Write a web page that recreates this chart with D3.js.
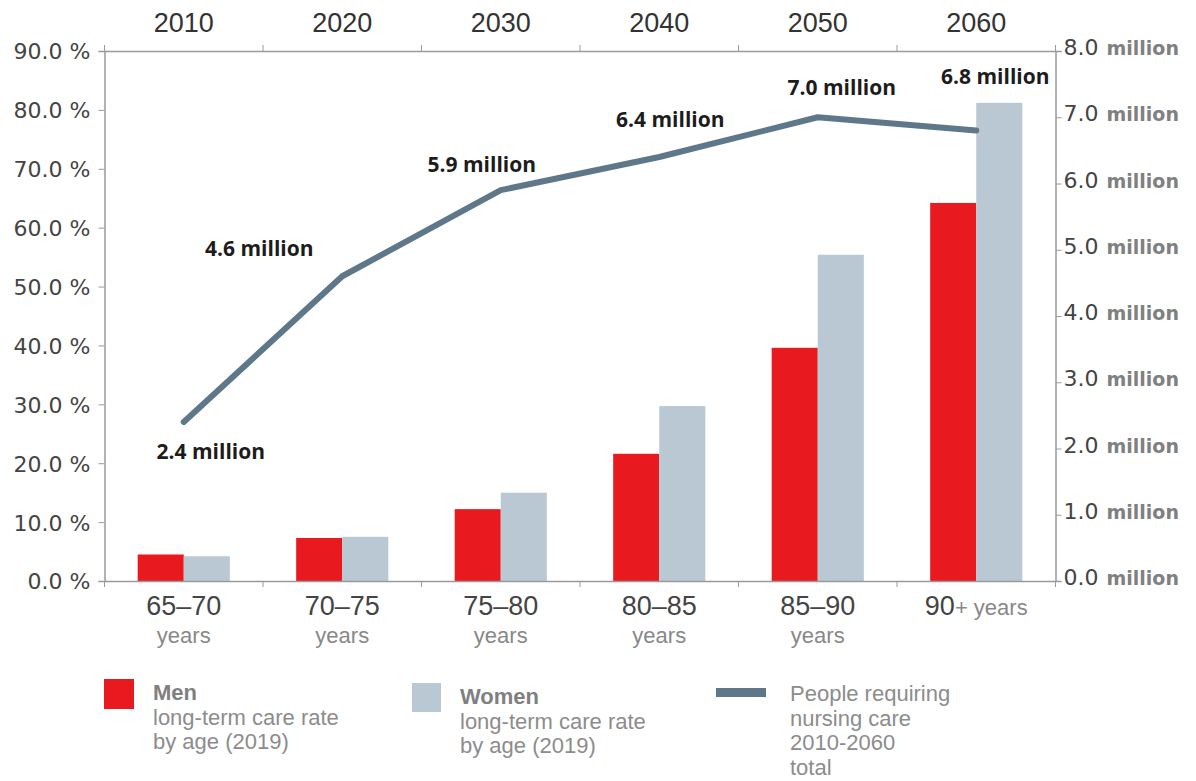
<!DOCTYPE html>
<html>
<head>
<meta charset="utf-8">
<script src="https://cdn.jsdelivr.net/npm/d3@7"></script>
<style>
  html, body { margin: 0; padding: 0; background: #fff; }
  svg { display: block; }
  .narrow { font-family: "Liberation Sans Narrow", "Liberation Sans", Arial, sans-serif; }
</style>
</head>
<body>
<svg id="chart" width="1196" height="781"></svg>
<script>
// Age groups (bottom) and projection years (top)
const ageGroups = ["65–70", "70–75", "75–80", "80–85", "85–90", "90+"];
const years = ["2010", "2020", "2030", "2040", "2050", "2060"];

// Long-term care rate by age, 2019 (%)
const menRate = [4.5, 7.3, 12.2, 21.6, 39.6, 64.2];
const womenRate = [4.2, 7.5, 15.0, 29.7, 55.4, 81.2];

// People requiring nursing care, total (million)
const careTotal = [2.4, 4.6, 5.9, 6.4, 7.0, 6.8];

// Axis ticks
const pctTicks = [0, 10, 20, 30, 40, 50, 60, 70, 80, 90];
const millionTicks = [0, 1, 2, 3, 4, 5, 6, 7, 8];

const colors = { men: "#e8191f", women: "#b9c8d3", line: "#5e7889", axis: "#9a9a9a" };

const svg = d3.select("#chart");
const plotLeft = 104.5, plotRight = 1055.5, plotTop = 51, plotBottom = 581;

const x = d3.scaleBand().domain(d3.range(ageGroups.length)).range([plotLeft, plotRight]).padding(0);
const sub = d3.scaleBand().domain(["men", "women"]).range([0, x.bandwidth()])
  .paddingInner(0).paddingOuter(0.72);
const yPct = d3.scaleLinear().domain([0, 90]).range([plotBottom, plotTop]);
const yMil = d3.scaleLinear().domain([0, 8]).range([plotBottom, plotTop]);

// Bars
const groups = svg.append("g").selectAll("g")
  .data(ageGroups.map((g, i) => ({ i, men: menRate[i], women: womenRate[i] })))
  .join("g")
  .attr("transform", d => `translate(${x(d.i)},0)`);

groups.selectAll("rect")
  .data(d => [{ k: "men", v: d.men }, { k: "women", v: d.women }])
  .join("rect")
  .attr("x", d => sub(d.k))
  .attr("width", sub.bandwidth())
  .attr("y", d => yPct(d.v))
  .attr("height", d => yPct(0) - yPct(d.v))
  .attr("fill", d => colors[d.k]);

// Left axis (%)
const axL = svg.append("g").attr("transform", `translate(${plotLeft},0)`)
  .call(d3.axisLeft(yPct).tickValues(pctTicks).tickSize(6).tickPadding(8)
    .tickFormat(d => d3.format(".1f")(d) + " %"));
axL.select(".domain").attr("stroke", colors.axis).attr("stroke-width", 1.5);
axL.selectAll(".tick line").attr("stroke", colors.axis);
axL.selectAll(".tick text").attr("font-family", "DejaVu Sans, Verdana, sans-serif")
  .attr("font-size", 22).attr("fill", "#444").attr("dy", "0.36em");

// Right axis (million)
const axR = svg.append("g").attr("transform", `translate(${plotRight},0)`)
  .call(d3.axisRight(yMil).tickValues(millionTicks).tickSize(6).tickPadding(2).tickFormat(""));
axR.select(".domain").attr("stroke", colors.axis).attr("stroke-width", 1.5);
axR.selectAll(".tick line").attr("stroke", colors.axis);
axR.selectAll(".tick").each(function (d) {
  const t = d3.select(this).append("text")
    .attr("x", 8).attr("dy", "0.36em")
    .attr("font-family", "DejaVu Sans, Verdana, sans-serif");
  t.append("tspan").attr("font-size", 22).attr("fill", "#444").text(d3.format(".1f")(d));
  t.append("tspan").attr("font-size", 19).attr("font-weight", "bold").attr("fill", "#808080")
    .attr("dx", 8).text("million");
});

// Top axis (years)
const axT = svg.append("g").attr("transform", `translate(0,${plotTop})`)
  .call(d3.axisTop(x).tickSize(0).tickFormat(""));
axT.select(".domain").attr("stroke", colors.axis).attr("stroke-width", 1.5);
// Bottom axis (age groups)
const axB = svg.append("g").attr("transform", `translate(0,${plotBottom})`)
  .call(d3.axisBottom(x).tickSize(0).tickFormat(""));
axB.select(".domain").attr("stroke", colors.axis).attr("stroke-width", 1.5);

// Tick marks on band boundaries
const bounds = d3.range(ageGroups.length + 1).map(i => i < ageGroups.length ? x(i) : plotRight);
svg.append("g").selectAll("line").data(bounds).join("line")
  .attr("x1", d => d).attr("x2", d => d).attr("y1", plotTop - 6).attr("y2", plotTop)
  .attr("stroke", colors.axis);
svg.append("g").selectAll("line").data(bounds).join("line")
  .attr("x1", d => d).attr("x2", d => d).attr("y1", plotBottom).attr("y2", plotBottom + 6)
  .attr("stroke", colors.axis);

// Year labels
svg.append("g").selectAll("text").data(years).join("text")
  .attr("class", "narrow")
  .attr("x", (d, i) => x(i) + x.bandwidth() / 2)
  .attr("y", 32)
  .attr("text-anchor", "middle")
  .attr("font-size", 27)
  .attr("fill", "#333")
  .text(d => d);

// Age group labels
const ageLab = svg.append("g").selectAll("text").data(ageGroups).join("text")
  .attr("class", "narrow")
  .attr("x", (d, i) => x(i) + x.bandwidth() / 2)
  .attr("text-anchor", "middle");
ageLab.each(function (d, i) {
  const t = d3.select(this);
  if (d === "90+") {
    t.attr("y", 615);
    t.append("tspan").attr("font-size", 27).attr("fill", "#444").text("90");
    t.append("tspan").attr("font-size", 22).attr("fill", "#888").text("+ years");
  } else {
    t.append("tspan").attr("x", x(i) + x.bandwidth() / 2).attr("y", 615)
      .attr("font-size", 27).attr("fill", "#444").text(d);
    t.append("tspan").attr("x", x(i) + x.bandwidth() / 2).attr("y", 643)
      .attr("font-size", 22).attr("fill", "#888").text("years");
  }
});

// Total line
const cx = i => x(i) + x.bandwidth() / 2;
const line = d3.line().x((d, i) => cx(i)).y(d => yMil(d));
svg.append("path").datum(careTotal)
  .attr("d", line)
  .attr("fill", "none")
  .attr("stroke", colors.line)
  .attr("stroke-width", 6)
  .attr("stroke-linejoin", "round")
  .attr("stroke-linecap", "round");

// Value labels beside the line points
const labelOffsets = [[27, 37], [-83, -20], [-19, -18], [11, -30], [24, -22], [19, -47]];
svg.append("g").selectAll("text").data(careTotal).join("text")
  .attr("x", (d, i) => cx(i) + labelOffsets[i][0])
  .attr("y", (d, i) => yMil(d) + labelOffsets[i][1])
  .attr("text-anchor", "middle")
  .attr("font-family", "Open Sans, sans-serif")
  .attr("font-weight", 700)
  .attr("font-size", 21)
  .attr("fill", "#1c1c1c")
  .text(d => d3.format(".1f")(d) + " million");

// Legend
const legend = [
  { x: 104, y: 679, sw: { w: 30, h: 30 }, fill: colors.men, title: "Men", lines: ["long-term care rate", "by age (2019)"], tx: 153, ty: 700 },
  { x: 412, y: 683, sw: { w: 29, h: 29 }, fill: colors.women, title: "Women", lines: ["long-term care rate", "by age (2019)"], tx: 460, ty: 704 },
  { x: 716, y: 688, sw: { w: 50, h: 9 }, fill: colors.line, title: null, lines: ["People requiring", "nursing care", "2010-2060", "total"], tx: 790, ty: 701 }
];
const lg = svg.append("g").selectAll("g").data(legend).join("g");
lg.append("rect")
  .attr("x", d => d.x).attr("y", d => d.y)
  .attr("width", d => d.sw.w).attr("height", d => d.sw.h)
  .attr("fill", d => d.fill);
lg.each(function (d) {
  const t = d3.select(this).append("text").attr("class", "narrow").attr("font-size", 22);
  let k = 0;
  if (d.title) {
    t.append("tspan").attr("x", d.tx).attr("y", d.ty).attr("font-weight", "bold")
      .attr("fill", "#808080").text(d.title);
    k = 1;
  }
  d.lines.forEach((s, j) => {
    t.append("tspan").attr("x", d.tx).attr("y", d.ty + (j + k) * 24.5)
      .attr("fill", "#8c8c8c").text(s);
  });
});
</script>
</body>
</html>
